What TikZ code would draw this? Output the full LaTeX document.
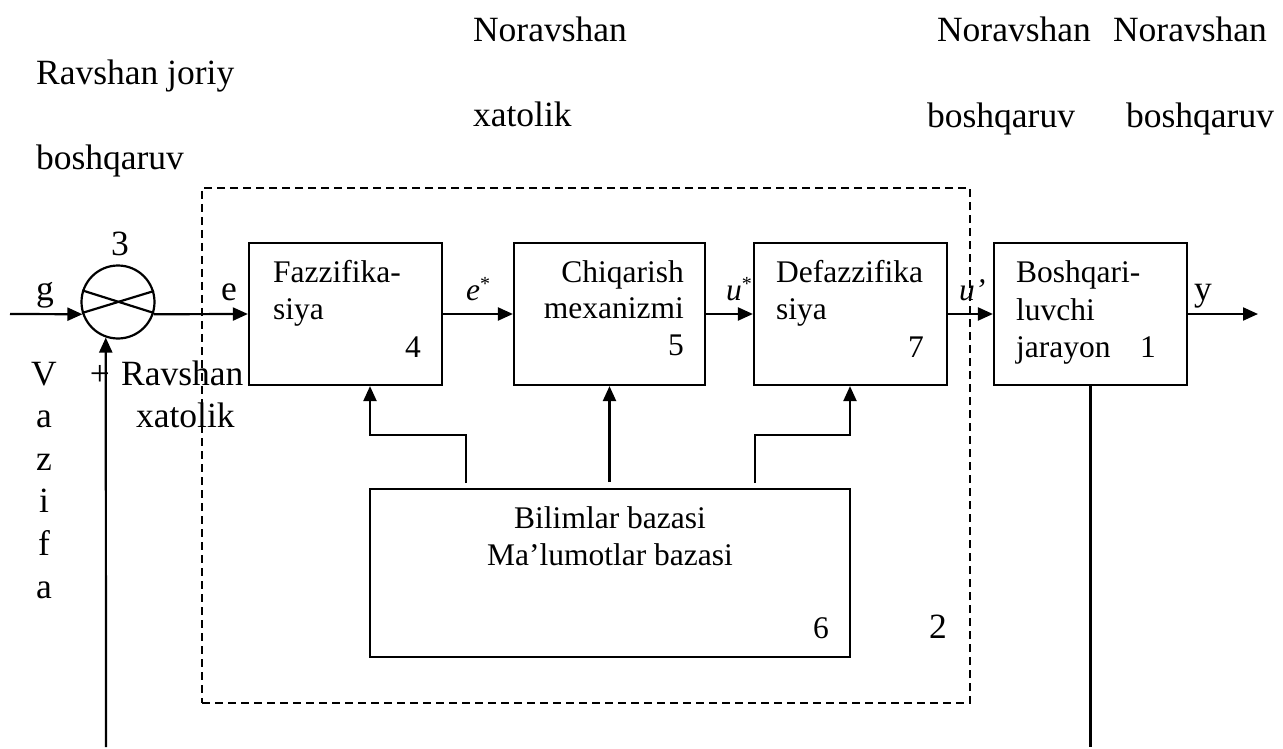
\documentclass[tikz,border=0pt]{standalone}
\usepackage{fontspec}
\setmainfont{Liberation Serif}
\usetikzlibrary{arrows.meta}
\begin{document}
\begin{tikzpicture}[x=1pt,y=-1pt,
  line width=2.2pt,
  arr/.style={-{Triangle[length=15pt,width=13pt]}},
  blk/.style={draw, line width=2.2pt, minimum height=142pt, inner sep=0pt},
  kb/.style={draw, line width=2.2pt, minimum width=480pt, minimum height=168pt, inner sep=0pt},
  sysbox/.style={draw, dash pattern=on 8pt off 5pt, line width=1.9pt,
                 minimum width=768pt, minimum height=515pt, inner sep=0pt},
  big/.style={inner sep=0pt, font=\fontsize{35.5}{40}\selectfont},
  small/.style={inner sep=0pt, font=\fontsize{31.5}{36}\selectfont}]
\useasboundingbox (0,0) rectangle (1283,749);

% titles above the scheme
\node[big, anchor=base west] (t1) at (472,42) {Noravshan};
\node[big, anchor=base west] (t2) at (936,42) {Noravshan};
\node[big, anchor=base west] (t3) at (1112,42) {Noravshan};
\node[big, anchor=base west] (t4) at (35,85) {Ravshan joriy};
\node[big, anchor=base west] (t5) at (472,127) {xatolik};
\node[big, anchor=base west] (t6) at (926,128) {boshqaruv};
\node[big, anchor=base west] (t7) at (1125,128) {boshqaruv};
\node[big, anchor=base west] (t8) at (35,170) {boshqaruv};

% fuzzy controller frame
\node[sysbox] (sys) at (586,445.5) {};
\node[big, anchor=base east] (n2) at (948,638) {2};

% comparator
\node[draw, circle, minimum size=73pt, inner sep=0pt, line width=2.2pt] (sum) at (118,302) {};
\draw (sum.162.5) -- (sum.-17.5);
\draw (sum.197.5) -- (sum.17.5);
\node[big, anchor=base west] (n3) at (110,255) {3};

% blocks
\node[blk, minimum width=193pt] (b4) at (345.5,314) {};
\node[blk, minimum width=191pt] (b5) at (609.5,314) {};
\node[blk, minimum width=193pt] (b7) at (850.5,314) {};
\node[blk, minimum width=193pt] (b1) at (1090.5,314) {};
\node[kb] (b6) at (610,573) {};

% block texts
\node[small, anchor=base west] (f1) at (272,282) {Fazzifika-};
\node[small, anchor=base west] (f2) at (272,319) {siya};
\node[small, anchor=base east] (f3) at (422,357) {4};

\node[small, anchor=base east] (c1) at (685,282) {Chiqarish};
\node[small, anchor=base east] (c2) at (685,318) {mexanizmi};
\node[small, anchor=base east] (c3) at (685,355) {5};

\node[small, anchor=base west] (d1) at (775,282) {Defazzifika};
\node[small, anchor=base west] (d2) at (775,319) {siya};
\node[small, anchor=base east] (d3) at (925,357) {7};

\node[small, anchor=base west] (p1) at (1015,282) {Boshqari-};
\node[small, anchor=base west] (p2) at (1015,320) {luvchi};
\node[small, anchor=base west] (p3) at (1015,357) {jarayon};
\node[small, anchor=base east] (p4) at (1157,357) {1};

\node[small, anchor=base] (k1) at (610,528) {Bilimlar bazasi};
\node[small, anchor=base] (k2) at (610,565) {Ma’lumotlar bazasi};
\node[small, anchor=base east] (k3) at (830,638) {6};

% signal names
\node[big, anchor=base west] (sg) at (35,300) {g};
\node[big, anchor=base west] (se) at (220,300) {e};
\node[big, anchor=base west] (sy) at (1193,300) {y};
\node[small, anchor=base west] (ses) at (465,300)
  {\itshape e\raisebox{10pt}{\fontsize{20}{20}\selectfont\upshape *}};
\node[small, anchor=base west] (sus) at (725,300)
  {\itshape u\raisebox{10pt}{\fontsize{20}{20}\selectfont\upshape *}};
\node[small, anchor=base west] (sup1) at (958,300) {\itshape u’};

% left side labels
\node[big, anchor=base] (pl) at (100,385) {+};
\node[big, anchor=base west] (r1) at (120,385) {Ravshan};
\node[big, anchor=base west] (r2) at (135,427) {xatolik};
\foreach \ch [count=\i from 0] in {V,a,z,i,f,a}
  \node[big, anchor=base] (v\i) at (44,385+42.6*\i) {\ch};

% main signal path
\coordinate (gin) at (10,314);
\coordinate (yout) at (1258,314);
\draw[arr] (gin) -- (sum.199.2);
\draw[arr] (sum.-19.2) -- (b4.west);
\draw[arr] (b4.east) -- (b5.west);
\draw[arr] (b5.east) -- (b7.west);
\draw[arr] (b7.east) -- (b1.west);
\draw[arr] (b1.east) -- (yout);

% feedback lines
\coordinate (fb) at (106,747);
\coordinate (pb) at (1090.5,747);
\draw[arr] (fb) -- (sum.-109.2);
\draw (b1.south) -- (pb);

% knowledge base links
\coordinate (k4) at (466,483);
\coordinate (h4) at (370,435);
\coordinate (k5) at (609.5,482);
\coordinate (k7) at (755,483);
\coordinate (h7) at (850,435);
\draw[arr] (k4) |- (h4) -- (h4 |- b4.south);
\draw[arr] (k5) -- (k5 |- b5.south);
\draw[arr] (k7) |- (h7) -- (h7 |- b7.south);
\end{tikzpicture}
\end{document}
